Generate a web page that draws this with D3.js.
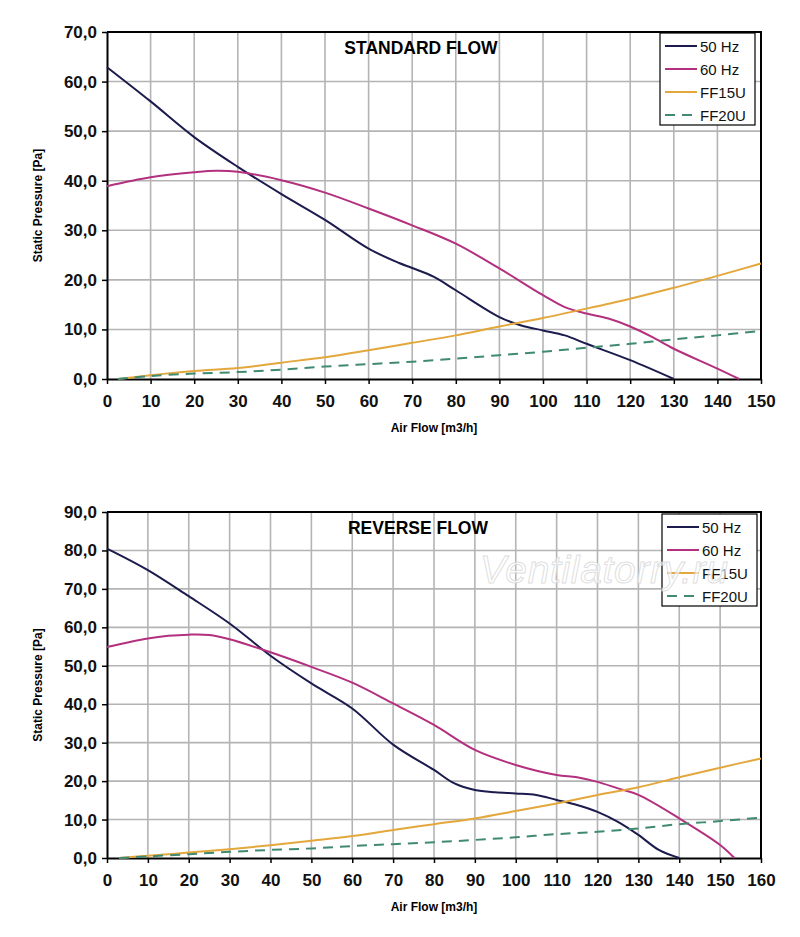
<!DOCTYPE html>
<html><head><meta charset="utf-8">
<script src="https://cdn.jsdelivr.net/npm/d3@7/dist/d3.min.js"></script>
<style>body{margin:0;background:#fff;}svg{display:block;}</style>
</head><body>
<svg id="c" width="800" height="937"></svg>
<script>
// ---- Data: STANDARD FLOW ----
const stdX50 = [0,10,20,30,40,50,60,67,70,75,80,90,95,100,105,110,120,130];
const stdY50 = [62.9,56.0,48.8,42.8,37.3,32.1,26.3,23.4,22.4,20.6,17.9,12.5,10.8,9.8,8.8,7.1,3.8,0];
const stdX60 = [0,10,20,25,30,40,50,60,70,80,90,100,105,110,115,120,125,130,140,145];
const stdY60 = [38.9,40.7,41.7,42.0,41.8,40.1,37.6,34.4,31.0,27.3,22.3,16.9,14.5,13.2,12.2,10.6,8.5,6.1,2.1,0];
const stdX15 = [2.5,10,20,30,40,50,60,70,80,90,100,110,120,130,140,150];
const stdY15 = [0,0.75,1.6,2.2,3.3,4.4,5.8,7.3,8.8,10.6,12.3,14.2,16.2,18.4,20.8,23.3];
const stdX20 = [2.5,10,20,30,40,50,60,70,80,90,100,110,120,130,140,150];
const stdY20 = [0,0.6,1.1,1.4,1.9,2.5,3.0,3.5,4.1,4.8,5.5,6.3,7.1,8.0,8.8,9.7];
// ---- Data: REVERSE FLOW ----
const revX50 = [0,10,20,30,40,50,60,70,80,85,90,95,100,105,110,115,120,125,130,135,140];
const revY50 = [80.5,74.9,68.1,61.0,52.6,45.4,38.9,29.5,22.9,19.4,17.7,17.1,16.8,16.4,15.1,13.8,12.0,9.4,6.0,2.1,0];
const revX60 = [0,10,15,20,25,30,40,50,60,70,80,90,100,110,115,120,125,130,140,150,153.5];
const revY60 = [54.9,57.1,57.8,58.1,58.0,56.9,53.5,49.7,45.6,40.2,34.6,28.1,24.2,21.6,21.0,19.8,18.1,16.4,10.3,3.4,0];
const revX15 = [3,10,20,30,40,50,60,70,80,90,100,110,120,130,140,150,160];
const revY15 = [0,0.6,1.4,2.3,3.3,4.5,5.7,7.3,8.8,10.3,12.2,14.2,16.4,18.4,21.0,23.5,25.9];
const revX20 = [3,10,20,30,40,50,60,70,80,90,100,110,120,130,140,150,160];
const revY20 = [0,0.4,1.0,1.6,2.1,2.5,3.1,3.6,4.1,4.7,5.4,6.2,6.8,7.7,8.8,9.6,10.5];

const seriesNames = ["50 Hz","60 Hz","FF15U","FF20U"];
const seriesColors = ["#1b1b4d","#b3307e","#e3a73c","#3f8a70"];
const seriesDash = [null,null,null,"10,7"];
const FONT = "Liberation Sans, Arial, sans-serif";

const svg = d3.select("#c");
const fmt = d => d.toFixed(1).replace(".", ",");

function chart(cfg){
  const g = svg.append("g");
  const x = d3.scaleLinear().domain([0,cfg.xmax]).range([107,761]);
  const y = d3.scaleLinear().domain([0,cfg.ymax]).range([cfg.bottom,cfg.top]);
  const xt = d3.range(0,cfg.xmax+1,10), yt = d3.range(0,cfg.ymax+1,10);
  // grid
  g.append("g").selectAll("line").data(xt.slice(1,-1)).join("line")
    .attr("x1",d=>x(d)).attr("x2",d=>x(d)).attr("y1",cfg.top).attr("y2",cfg.bottom)
    .attr("stroke","#b4b4b4").attr("stroke-width",1.6);
  g.append("g").selectAll("line").data(yt.slice(1,-1)).join("line")
    .attr("y1",d=>y(d)).attr("y2",d=>y(d)).attr("x1",107).attr("x2",761)
    .attr("stroke","#b4b4b4").attr("stroke-width",1.6);
  // axes
  const ax = g.append("g").attr("transform",`translate(0,${cfg.bottom})`)
    .call(d3.axisBottom(x).tickValues(xt).tickSize(5).tickSizeOuter(0).tickPadding(11));
  const ay = g.append("g").attr("transform","translate(107,0)")
    .call(d3.axisLeft(y).tickValues(yt).tickFormat(fmt).tickSize(5).tickSizeOuter(0).tickPadding(5));
  [ax,ay].forEach(a=>{
    a.select(".domain").attr("stroke","#000").attr("stroke-width",2);
    a.selectAll(".tick line").attr("stroke","#000").attr("stroke-width",1.5);
    a.selectAll("text").attr("font-family",FONT)
      .attr("font-weight","bold").attr("font-size",17).attr("fill","#111");
  });
  // top/right border
  g.append("path").attr("d",`M107,${cfg.top}H761V${cfg.bottom}`).attr("fill","none")
    .attr("stroke","#000").attr("stroke-width",2);
  // lines
  const line = d3.line().x(d=>x(d[0])).y(d=>y(d[1])).curve(d3.curveCatmullRom.alpha(0.5));
  cfg.series.forEach((s,i)=>{
    const pts = s[0].map((v,k)=>[v,s[1][k]]);
    g.append("path").datum(pts).attr("d",line).attr("fill","none")
      .attr("stroke",seriesColors[i]).attr("stroke-width",2)
      .attr("stroke-dasharray",seriesDash[i]);
  });
  // title
  g.append("text").attr("x",cfg.titleX).attr("y",cfg.top+22).attr("text-anchor","middle")
    .attr("font-family",FONT).attr("font-weight","bold")
    .attr("font-size",17.5).text(cfg.title);
  // axis titles
  g.append("text").attr("x",434).attr("y",cfg.bottom+53).attr("text-anchor","middle")
    .attr("font-family",FONT).attr("font-weight","bold")
    .attr("font-size",12).text("Air Flow [m3/h]");
  g.append("text").attr("transform",`translate(42,${(cfg.top+cfg.bottom)/2}) rotate(-90)`)
    .attr("text-anchor","middle")
    .attr("font-family",FONT).attr("font-weight","bold")
    .attr("font-size",12).text("Static Pressure [Pa]");
  // legend
  const L = g.append("g").attr("transform",`translate(${cfg.legX},${cfg.legY})`);
  L.append("rect").attr("width",95).attr("height",92).attr("fill","#fff")
    .attr("stroke","#000").attr("stroke-width",1.2);
  seriesNames.forEach((n,i)=>{
    const yy = 13 + i*23;
    L.append("line").attr("x1",5).attr("x2",37).attr("y1",yy).attr("y2",yy)
      .attr("stroke",seriesColors[i]).attr("stroke-width",2).attr("stroke-dasharray",seriesDash[i]);
    L.append("text").attr("x",40).attr("y",yy+5.5).attr("font-family",FONT)
      .attr("font-size",15).attr("fill","#111").text(n);
  });
  // watermark overlays the legend, as in the reference
  if(cfg.watermark){
    g.append("text").attr("x",480).attr("y",583)
      .attr("font-family",FONT).attr("font-style","italic")
      .attr("font-size",39).attr("fill","#fff").attr("fill-opacity",0.6).attr("stroke","#d6d6d6")
      .attr("stroke-width",1).attr("stroke-opacity",0.8)
      .attr("textLength",248).text("Ventilatorry.ru");
  }
}

chart({xmax:150,ymax:70,top:32,bottom:379,title:"STANDARD FLOW",titleX:421,legX:660,legY:33,
  series:[[stdX50,stdY50],[stdX60,stdY60],[stdX15,stdY15],[stdX20,stdY20]]});
chart({xmax:160,ymax:90,top:512,bottom:858,title:"REVERSE FLOW",titleX:418,legX:662,legY:514,watermark:true,
  series:[[revX50,revY50],[revX60,revY60],[revX15,revY15],[revX20,revY20]]});
</script>
</body></html>
